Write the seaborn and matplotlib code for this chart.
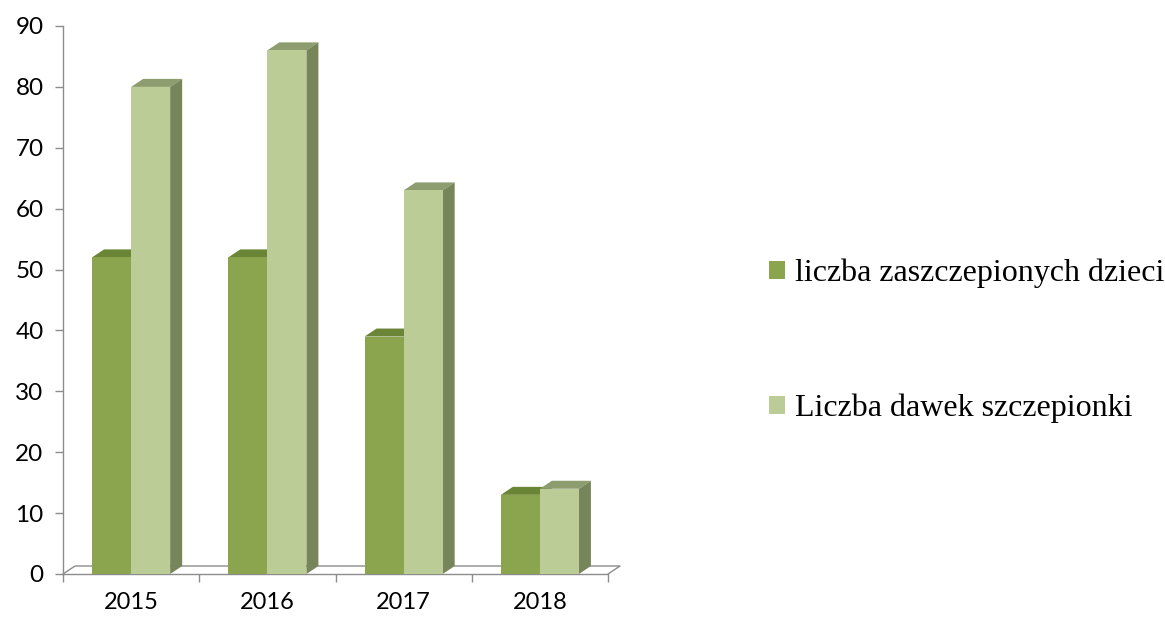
import pandas as pd
import matplotlib
matplotlib.use("Agg")
import matplotlib.pyplot as plt
import seaborn as sns
from matplotlib.patches import Polygon

years = ["2015", "2016", "2017", "2018"]
series = ["liczba zaszczepionych dzieci", "Liczba dawek szczepionki"]
children = [52, 52, 39, 13]
doses = [80, 86, 63, 14]

front_colors = ["#8BA54E", "#BBCC96"]
top_colors = ["#6B8536", "#8E9D6F"]
side_colors = ["#6E8939", "#77855B"]
axis_grey = "#8C8C8C"

df = pd.DataFrame({
    "rok": years * 2,
    "seria": [series[0]] * len(years) + [series[1]] * len(years),
    "wartosc": children + doses,
})

sns.set_theme(style="white")
plt.rcParams["font.family"] = ["Lato", "DejaVu Sans"]

fig = plt.figure(figsize=(11.65, 6.19), dpi=100)
ax = fig.add_axes([63 / 1165, 45 / 619, 545 / 1165, 548 / 619])

sns.barplot(data=df, x="rok", y="wartosc", hue="seria", palette=front_colors,
            width=0.573, saturation=1, linewidth=0, ax=ax, zorder=3)

# pseudo 3D depth
dx = 12 / 136.25
dy = 8 / 6.09

for k, cont in enumerate(ax.containers):
    for p in cont:
        x, w, h = p.get_x(), p.get_width(), p.get_height()
        top = Polygon([(x, h), (x + dx, h + dy), (x + w + dx, h + dy), (x + w, h)],
                      closed=True, facecolor=top_colors[k], edgecolor="none",
                      zorder=2, clip_on=False)
        side = Polygon([(x + w, 0), (x + w, h), (x + w + dx, h + dy), (x + w + dx, dy)],
                       closed=True, facecolor=side_colors[k], edgecolor="none",
                       zorder=2, clip_on=False)
        ax.add_patch(top)
        ax.add_patch(side)

ax.set_xlim(-0.5, len(years) - 0.5)
ax.set_ylim(0, 90)
ax.set_yticks(range(0, 91, 10))

# floor outline
x0, x1 = -0.5, len(years) - 0.5
ax.plot([x0, x0 + dx, x1 + dx, x1], [0, dy, dy, 0], color=axis_grey, lw=1.0,
        zorder=1, clip_on=False)

sns.despine(ax=ax)
for s in ["left", "bottom"]:
    ax.spines[s].set_color(axis_grey)
    ax.spines[s].set_linewidth(1.0)

ax.set_xticks([i - 0.5 for i in range(len(years) + 1)], minor=True)
ax.tick_params(axis="x", which="minor", length=6, color=axis_grey, width=1, direction="out", bottom=True)
ax.tick_params(axis="x", which="major", length=0, pad=13, labelsize=17, labelcolor="black")
ax.tick_params(axis="y", length=6, color=axis_grey, width=1, direction="out", left=True,
               pad=8, labelsize=17.5, labelcolor="black")
ax.set_xlabel("")
ax.set_ylabel("")

handles, labels = ax.get_legend_handles_labels()
ax.legend_.remove()
leg = fig.legend(handles, labels, loc="center left", bbox_to_anchor=(769 / 1165, 1 - 341 / 619),
                 frameon=False, borderpad=0, borderaxespad=0,
                 handlelength=0.5, handleheight=0.5, handletextpad=0.3, labelspacing=3.3,
                 prop={"family": "Liberation Serif", "size": 23})
for t in leg.get_texts():
    t.set_color("black")

fig.savefig("out.png", dpi=100)
